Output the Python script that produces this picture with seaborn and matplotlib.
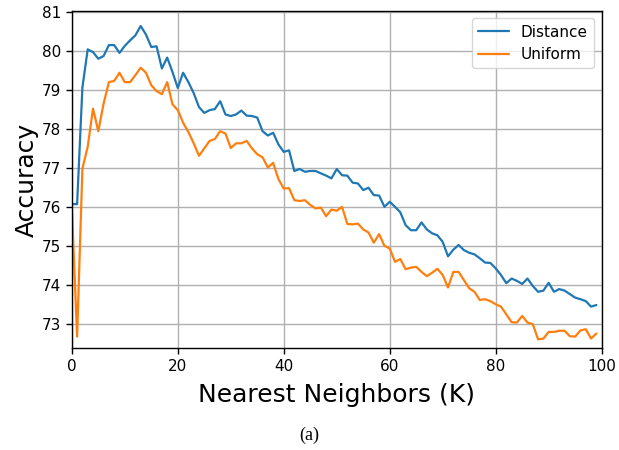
import matplotlib
matplotlib.use("Agg")
import matplotlib.pyplot as plt
import numpy as np
import pandas as pd
import seaborn as sns

# accuracy vs number of nearest neighbours, K = 0..99
k_values = list(range(100))
distance_acc = [
    76.07, 76.07, 79.06, 80.04, 79.97, 79.80, 79.87, 80.15, 80.15, 79.95,
    80.13, 80.27, 80.40, 80.64, 80.42, 80.10, 80.12, 79.55, 79.83, 79.46,
    79.05, 79.44, 79.20, 78.92, 78.56, 78.41, 78.48, 78.51, 78.71, 78.37,
    78.33, 78.37, 78.47, 78.34, 78.33, 78.29, 77.94, 77.83, 77.90, 77.60,
    77.41, 77.45, 76.92, 76.97, 76.90, 76.92, 76.92, 76.86, 76.80, 76.73,
    76.97, 76.81, 76.80, 76.62, 76.60, 76.43, 76.49, 76.30, 76.29, 76.00,
    76.13, 76.00, 75.86, 75.53, 75.40, 75.40, 75.60, 75.42, 75.32, 75.27,
    75.10, 74.73, 74.90, 75.02, 74.89, 74.82, 74.78, 74.68, 74.57, 74.56,
    74.42, 74.25, 74.04, 74.16, 74.10, 74.02, 74.16, 73.97, 73.82, 73.85,
    74.05, 73.82, 73.89, 73.85, 73.76, 73.67, 73.63, 73.58, 73.44, 73.48,
]
uniform_acc = [
    76.00, 72.67, 76.98, 77.54, 78.52, 77.94, 78.65, 79.20, 79.23, 79.44,
    79.20, 79.20, 79.38, 79.57, 79.44, 79.12, 78.97, 78.89, 79.20, 78.63,
    78.48, 78.16, 77.92, 77.63, 77.31, 77.50, 77.69, 77.74, 77.94, 77.88,
    77.51, 77.63, 77.63, 77.69, 77.50, 77.35, 77.27, 77.01, 77.13, 76.71,
    76.47, 76.48, 76.17, 76.15, 76.17, 76.05, 75.96, 75.98, 75.76, 75.93,
    75.90, 76.00, 75.56, 75.55, 75.57, 75.42, 75.34, 75.08, 75.30, 75.00,
    74.93, 74.59, 74.66, 74.40, 74.44, 74.46, 74.33, 74.22, 74.31, 74.41,
    74.25, 73.93, 74.33, 74.33, 74.12, 73.91, 73.82, 73.61, 73.63, 73.58,
    73.50, 73.44, 73.24, 73.04, 73.03, 73.20, 73.03, 72.99, 72.60, 72.62,
    72.79, 72.79, 72.82, 72.82, 72.68, 72.67, 72.83, 72.86, 72.62, 72.75,
]
series_names = ["Distance", "Uniform"]

df = pd.DataFrame({
    "K": k_values * 2,
    "Accuracy": distance_acc + uniform_acc,
    "Weighting": [series_names[0]] * 100 + [series_names[1]] * 100,
})

sns.set_theme(style="ticks", rc={
    "text.color": "black",
    "axes.labelcolor": "black",
    "xtick.color": "black",
    "ytick.color": "black",
    "axes.edgecolor": "black",
})
plt.rcParams["font.family"] = "DejaVu Sans"

fig = plt.figure(figsize=(6.19, 4.5), dpi=100)
ax = fig.add_axes([0.116, 0.226, 0.856, 0.750])
sns.lineplot(data=df, x="K", y="Accuracy", hue="Weighting",
             palette=["#1f77b4", "#ff7f0e"], linewidth=1.6, ax=ax)

ax.set_xlim(0, 100)
ax.set_ylim(72.37, 81.03)
ax.set_yticks(range(73, 82))
ax.set_xticks(range(0, 101, 20))
ax.grid(True, color="#b0b0b0", linewidth=1.0)
for s in ax.spines.values():
    s.set_linewidth(1.0)
ax.tick_params(labelsize=11, length=4, width=1)
ax.set_xlabel("Nearest Neighbors (K)", fontsize=18, labelpad=7)
ax.set_ylabel("Accuracy", fontsize=18, labelpad=2)
ax.legend(title=None, loc="upper right", fontsize=11, frameon=True)

fig.text(0.5, 0.033, "(a)", ha="center", va="center", fontsize=13,
         family="Liberation Serif")

fig.savefig("out.png")
